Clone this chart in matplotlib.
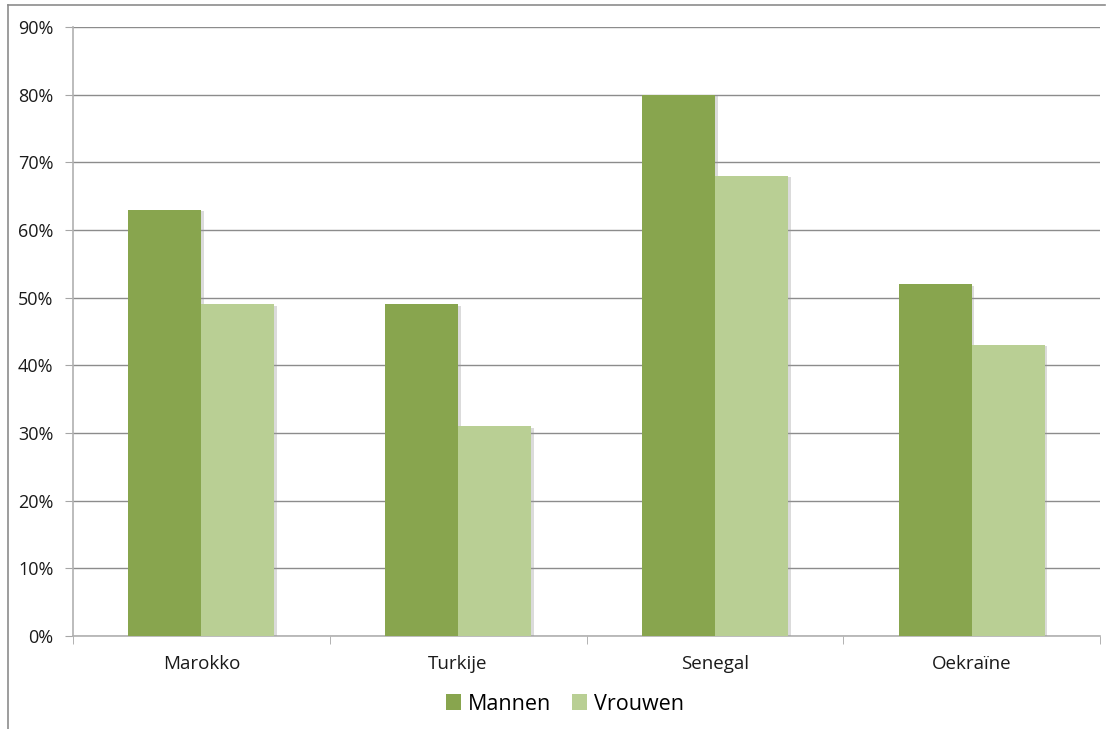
import matplotlib
matplotlib.use("Agg")
import matplotlib.pyplot as plt
import matplotlib.patheffects as pe
from matplotlib.lines import Line2D
from matplotlib.patches import Patch
import numpy as np

categories = ["Marokko", "Turkije", "Senegal", "Oekraïne"]
mannen = [63, 49, 80, 52]
vrouwen = [49, 31, 68, 43]
series_names = ["Mannen", "Vrouwen"]
colors = ["#88A54E", "#B9CF94"]
yticks = list(range(0, 91, 10))
ytick_labels = [f"{v}%" for v in yticks]

plt.rcParams['font.family'] = ['Open Sans', 'DejaVu Sans']

fig = plt.figure(figsize=(11.11, 7.29), dpi=100)
ax = fig.add_axes([73/1111, 1-636/729, (1100-73)/1111, (636-27)/729])

x = np.arange(len(categories))
w = 0.284
shadow = [pe.SimplePatchShadow(offset=(2, -1), shadow_rgbFace="#9a9a9a", alpha=0.35), pe.Normal()]
b1 = ax.bar(x - w/2, mannen, width=w, color=colors[0], edgecolor="none", zorder=3)
b2 = ax.bar(x + w/2, vrouwen, width=w, color=colors[1], edgecolor="none", zorder=3)
for b in list(b1) + list(b2):
    b.set_path_effects(shadow)

ax.set_xlim(-0.5, len(categories) - 0.5)
ax.set_ylim(0, 90)
ax.set_yticks(yticks)
ax.set_yticklabels(ytick_labels, fontsize=13, color="#1a1a1a")
ax.yaxis.grid(True, color="#8c8c8c", linewidth=1.0, zorder=0)
ax.set_axisbelow(True)

ax.set_xticks(x)
ax.set_xticklabels(categories, fontsize=13.5, color="#1a1a1a")
ax.tick_params(axis="x", length=0, pad=14)
ax.tick_params(axis="y", length=6, color="#a6a6a6", pad=8)
# minor ticks between categories on x axis
ax.set_xticks(np.arange(-0.5, len(categories), 1.0), minor=True)
ax.tick_params(axis="x", which="minor", length=6, color="#a6a6a6", direction="out")

for s in ["top", "right"]:
    ax.spines[s].set_visible(False)
ax.spines["left"].set_color("#b0b0b0")
ax.spines["bottom"].set_color("#b0b0b0")
ax.spines["left"].set_linewidth(1.2)
ax.spines["bottom"].set_linewidth(1.2)

handles = [Patch(facecolor=colors[0], edgecolor="none"), Patch(facecolor=colors[1], edgecolor="none")]
fig.legend(handles, series_names, loc="center", bbox_to_anchor=(565/1111, 1-704/729), ncol=2,
           frameon=False, fontsize=15.5, handlelength=0.7, handleheight=0.7, handletextpad=0.3,
           columnspacing=1.0)

# outer border (left and top)
fig.add_artist(Line2D([8/1111, 8/1111], [0, 1-5/729], transform=fig.transFigure, color="#8c8c8c", linewidth=1.2))
fig.add_artist(Line2D([8/1111, 1105/1111], [1-5/729, 1-5/729], transform=fig.transFigure, color="#8c8c8c", linewidth=1.2))

fig.savefig("out.png", dpi=100, facecolor="white")
